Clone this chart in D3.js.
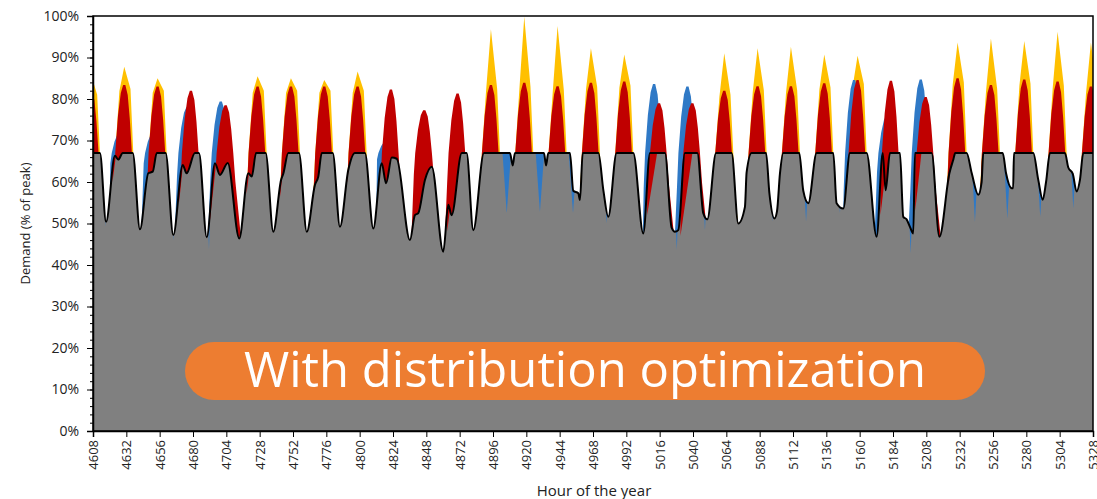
<!DOCTYPE html>
<html>
<head>
<meta charset="utf-8">
<script src="https://cdn.jsdelivr.net/npm/d3@7/dist/d3.min.js"></script>
<style>
  body { margin: 0; background: #fff; }
  text { font-family: "Open Sans", sans-serif; }
</style>
</head>
<body>
<script>
// ---- values ----
var hourTicks = [4608, 4632, 4656, 4680, 4704, 4728, 4752, 4776, 4800, 4824, 4848, 4872, 4896,
                 4920, 4944, 4968, 4992, 5016, 5040, 5064, 5088, 5112, 5136, 5160, 5184, 5208,
                 5232, 5256, 5280, 5304, 5328]
var pctTicks = [0, 10, 20, 30, 40, 50, 60, 70, 80, 90, 100]

// optimized demand (black line), [hour, % of peak]
var optimized = [
  [4600,67],[4613,67],[4617.4,50.4],[4623.8,66.3],[4626.2,65.4],[4629.4,67],[4636.6,67],
  [4641.8,48.6],[4647.8,62.1],[4651,62.5],[4653.9,67],[4660.3,67],
  [4665.8,47.2],[4672.6,64.1],[4675.4,62.1],[4681.4,67],[4684.3,67],
  [4689.9,46.7],[4695.8,64.5],[4699.4,61.7],[4705,64.6],
  [4713.3,46.4],[4719.8,62.1],[4722.3,61.3],[4725.4,67],[4732.3,67],
  [4737.8,48],[4743.4,60.5],[4745,62],[4748.6,67],[4756.3,67],
  [4761.9,48],[4767.8,59.3],[4770.2,61.3],[4772.7,67],[4780.6,67],
  [4785.8,49.2],[4791.8,62.9],[4796.6,67],[4803.8,67],
  [4809.8,48.8],[4815.9,64.5],[4819,59.7],[4823.1,65.9],[4826.7,65.6],
  [4836.2,46],[4839.8,52],[4842.2,52.5],[4847,60.5],[4851.9,63.7],
  [4860.2,43.2],[4863.8,54.5],[4866.2,52],[4873.5,67],[4877,67],
  [4881.8,48.4],[4889.5,67],[4908.2,67],[4910.2,64],[4911.8,67],[4932.7,67],[4934.2,64],[4935.8,67],[4951.4,67],
  [4953.8,57.9],[4957.4,57.3],[4958.6,55.7],[4960.6,67],[4971.9,67],
  [4975.5,57.9],[4979,51.6],[4985,67],[4997,67],
  [5004.2,47.6],[5009,67],[5019.8,67],
  [5024.6,49],[5027,48],[5029.4,48.4],[5034.2,67],[5043.1,67],
  [5047.4,52.5],[5050.3,51],[5056.6,67],[5067.8,67],
  [5072.6,50],[5077.4,54],[5078.6,62.3],[5082.2,67],[5092.6,67],
  [5095,57.3],[5098.6,51.2],[5100.5,53],[5102.6,62],[5105,67],[5116.5,67],
  [5119.4,57.9],[5123,54.9],[5129,67],[5141,67],
  [5143.4,54.9],[5148.2,53.6],[5153,67],[5165,67],
  [5172.2,46.8],[5176.6,67],[5178.7,58],[5181.8,67],[5189,67],
  [5191.4,51.6],[5193.8,51],[5196.2,49.2],[5198.6,47.6],[5199.8,67],[5211.8,67],
  [5217.4,46.8],[5224.6,62.1],[5227.5,65.5],[5228.8,67],[5237,67],
  [5240.7,62.1],[5245.4,56.9],[5247.8,60],[5249,67],[5263,67],
  [5265.4,62.1],[5269.5,58.5],[5270.5,58.5],[5271.1,67],[5285,67],
  [5288.6,60.5],[5291.8,55.7],[5294.2,60],[5297,67],[5307.8,67],
  [5310.2,63.5],[5313.4,62],[5316.2,57.7],[5318.6,60.5],[5321,67],[5335,67]
]

// one entry per demand day, first hour of each day
var dayStart = [4584, 4608, 4632, 4656, 4680, 4704, 4728, 4752, 4776, 4800, 4824, 4848, 4872,
                4896, 4920, 4944, 4968, 4992, 5016, 5040, 5064, 5088, 5112, 5136, 5160, 5184,
                5208, 5232, 5256, 5280, 5304]
var yellowPeak = [86, 87.8, 85, null, null, 85.5, 85, 84.6, 86.6, null, null, null, 96.8,
                  99.8, 97.6, 92.2, 90.7, null, null, 91, 92.2, 92.6, 90.7, 90.4, null, null,
                  93.6, 94.6, 94, 96.2, 93.6]
var redPeak = [82, 83.4, 83, 82, 78.5, 83, 83, 83, 83, 82.3, 77.3, 81.3, 83.4,
               83.9, 83.1, 83.9, 84.2, 79, 79, 82, 83.1, 83.1, 83.8, 84.6, 84.4, 80.5,
               85, 83.4, 84.7, 84.2, 83]
var bluePeak = [null, 72, 72, 78, 79.4, null, null, null, null, 70, null, null, null,
                null, null, null, null, 83.6, 83, null, null, null, null, 84.6, 76, 84.7,
                null, null, null, null, null]

// demand that dips below the optimized line: [hour, low %, half width in hours]
var blueDips = [[4617, 49.2, 2], [4666, 45.9, 2.5], [4691.5, 43.8, 2.5], [4905.9, 52.5, 3.5],
                [4929.8, 52.8, 3.5], [4953.6, 52.5, 3.5], [4977.9, 50, 3], [5028.3, 43.6, 3],
                [5048.6, 48.4, 3], [5097.4, 50.4, 2.5], [5121.4, 50.4, 3], [5145.8, 52.5, 3],
                [5196.7, 42.8, 3], [5243, 50.4, 3], [5266.3, 51.2, 3], [5290, 51.6, 3],
                [5313.8, 53.6, 2.5]]
// red wedges under the line on the morning ramp: [from hour, to hour, low %]
var redWedges = [[4622, 4628, 60], [4645, 4652, 58], [4670, 4676, 55], [4692, 4700, 50],
                 [4718.5, 4725, 57], [4742.5, 4749, 56], [4766.5, 4773, 56], [4790.5, 4797, 59],
                 [4839.5, 4849, 52], [4863, 4873, 48], [5007, 5018, 52], [5031, 5043, 47],
                 [5076, 5082, 56], [5175, 5183, 52], [5200, 5207, 53], [5224, 5229, 59]]

// ---- layout ----
var svgWidth = 1097, svgHeight = 499
var margin = {top: 16, right: 4, bottom: 68, left: 93}
var chartWidth = svgWidth - margin.left - margin.right
var chartHeight = svgHeight - margin.top - margin.bottom

var svg = d3.select("body").append("svg")
    .attr("width", svgWidth)
    .attr("height", svgHeight)

var xScale = d3.scaleLinear().domain([4608, 5328]).range([0, chartWidth])
var yScale = d3.scaleLinear().domain([0, 100]).range([chartHeight, 0])

var g = svg.append("g")
    .attr("transform", "translate(" + margin.left + "," + margin.top + ")")

var defs = svg.append("defs")
defs.append("clipPath").attr("id", "plotClip")
  .append("rect").attr("width", chartWidth).attr("height", chartHeight)

var area = d3.area()
    .x(function(d) { return xScale(d[0]) })
    .y0(yScale(0))
    .y1(function(d) { return yScale(d[1]) })

var smoothArea = d3.area()
    .curve(d3.curveMonotoneX)
    .x(function(d) { return xScale(d[0]) })
    .y0(yScale(0))
    .y1(function(d) { return yScale(d[1]) })

// shape of a daily peak: [hour offset, fraction of height above the 67% cap]
var bell = [[-7.5, -0.5], [-6.5, 0], [-4.5, 0.55], [-2.5, 0.88], [-0.8, 1], [0.8, 1],
            [2.5, 0.85], [4, 0.5], [5.5, 0], [7, -0.6]]

function bellPoints(c, top) {
  var pts = [[c - 10, 40]]
  bell.forEach(function(b) { pts.push([c + b[0], 67 + b[1] * (top - 67)]) })
  pts.push([c + 13, 40])
  return pts
}

function peakPoints(kind) {
  var pts = []
  dayStart.forEach(function(t, i) {
    var c = t + 22.5
    var blueFirst = bluePeak[i] != null && bluePeak[i] > redPeak[i]
    var r = redPeak[i]
    if (kind == "red") {
      pts = pts.concat(bellPoints(blueFirst ? c + 1 : c, r))
    } else if (kind == "yellow") {
      var y = yellowPeak[i]
      if (y == null) { pts.push([c - 10, 40], [c + 13, 40]); return }
      pts.push([c - 10, 40], [c - 7.5, 60], [c - 6.5, 67], [c - 3.5, r - 1.5], [c, y],
               [c + 4.5, r - 1], [c + 6.5, 67], [c + 7.5, 58], [c + 13, 40])
    } else {
      var b = bluePeak[i]
      if (b == null) { pts.push([c - 10, 40], [c + 13, 40]); return }
      pts = pts.concat(bellPoints(c - 2.5, b))
    }
  })
  return pts.sort(function(a, b) { return a[0] - b[0] })
}

var plot = g.append("g").attr("clip-path", "url(#plotClip)")

plot.append("path").datum(peakPoints("yellow"))
    .attr("d", area).style("fill", "#ffc000")
plot.append("path").datum(peakPoints("blue"))
    .attr("d", area).style("fill", "#2f79c6")
plot.append("path").datum(peakPoints("red"))
    .attr("d", area).style("fill", "#c00000")

// optimized demand area (grey)
plot.append("path").datum(optimized)
    .attr("d", smoothArea).style("fill", "#808080")

defs.append("clipPath").attr("id", "underLine")
  .append("path").datum(optimized).attr("d", smoothArea)

var under = plot.append("g").attr("clip-path", "url(#underLine)")

under.selectAll(".dip").data(blueDips)
  .enter().append("path")
    .attr("class", "dip")
    .attr("d", function(d) {
      return d3.line()([[xScale(d[0] - d[2]), yScale(69)], [xScale(d[0]), yScale(d[1])],
                        [xScale(d[0] + d[2]), yScale(69)]]) + "Z"
    })
    .style("fill", "#2f79c6")

under.selectAll(".wedge").data(redWedges)
  .enter().append("path")
    .attr("class", "wedge")
    .attr("d", function(d) {
      return d3.line()([[xScale(d[0]), yScale(75)], [xScale(d[0]), yScale(d[2])],
                        [xScale(d[1]), yScale(75)]]) + "Z"
    })
    .style("fill", "#c00000")

plot.append("path").datum(optimized)
    .attr("d", d3.line().curve(d3.curveMonotoneX)
      .x(function(d) { return xScale(d[0]) })
      .y(function(d) { return yScale(d[1]) }))
    .style("fill", "none").style("stroke", "#000").style("stroke-width", 2)

// frame
g.append("rect").attr("width", chartWidth).attr("height", chartHeight)
    .style("fill", "none").style("stroke", "#000").style("stroke-width", 1.5)

// axes
var yMinor = g.append("g")
    .call(d3.axisLeft(yScale).tickValues(d3.range(0, 101, 2)).tickSize(3).tickFormat(""))
yMinor.select(".domain").remove()

var yAxis = g.append("g")
    .call(d3.axisLeft(yScale).tickValues(pctTicks).tickSize(6).tickPadding(8)
      .tickFormat(function(d) { return d + "%" }))
yAxis.selectAll("text").style("font-size", "14px").style("fill", "#222")

var xAxis = g.append("g")
    .attr("transform", "translate(0," + chartHeight + ")")
    .call(d3.axisBottom(xScale).tickValues(hourTicks).tickSize(6).tickFormat(d3.format("d")))
xAxis.selectAll("text")
    .attr("transform", "rotate(-90)")
    .attr("text-anchor", "end")
    .attr("x", -9).attr("y", 0).attr("dy", "0.35em")
    .style("font-size", "13px").style("fill", "#222")

svg.selectAll(".domain").style("stroke-width", 1.5)

svg.append("text")
    .attr("transform", "translate(30," + (margin.top + chartHeight / 2) + ") rotate(-90)")
    .attr("text-anchor", "middle")
    .style("font-size", "13px").style("fill", "#222")
    .text("Demand (% of peak)")

svg.append("text")
    .attr("x", 594).attr("y", 496)
    .attr("text-anchor", "middle")
    .style("font-size", "15px").style("fill", "#222")
    .text("Hour of the year")

// banner
svg.append("rect")
    .attr("x", 185).attr("y", 342).attr("width", 800).attr("height", 58)
    .attr("rx", 29).attr("ry", 29)
    .style("fill", "#ed7d31")
svg.append("text")
    .attr("x", 585).attr("y", 387)
    .attr("text-anchor", "middle")
    .style("font-size", "49px").style("fill", "#fff")
    .text("With distribution optimization")
</script>
</body>
</html>
